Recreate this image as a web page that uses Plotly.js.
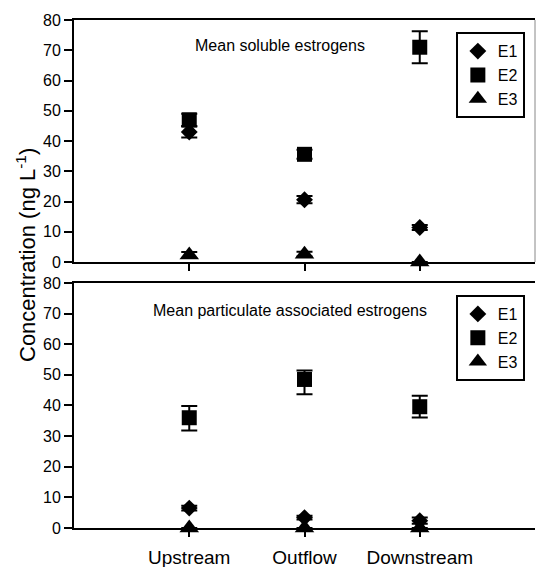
<!DOCTYPE html>
<html>
<head>
<meta charset="utf-8">
<script src="https://cdn.plot.ly/plotly-3.0.1.min.js"></script>
<style>html,body{margin:0;padding:0;background:#fff;}#chart{width:536px;height:567px;}</style>
</head>
<body>
<div id="chart"></div>
<script>
const categories = ["Upstream", "Outflow", "Downstream"];
const seriesNames = ["E1", "E2", "E3"];

// Mean soluble estrogens (ng L-1)
const solubleE1 = [43.0, 20.6, 11.4];
const solubleE1Err = [1.8, 1.2, 0.8];
const solubleE2 = [47.0, 35.6, 71.0];
const solubleE2Err = [2.0, 1.5, 5.3];
const solubleE3 = [2.3, 2.6, 0.0];
const solubleE3Err = [1.0, 0.8, 0.0];

// Mean particulate associated estrogens (ng L-1)
const partE1 = [6.5, 3.4, 2.4];
const partE1Err = [0.8, 0.6, 1.0];
const partE2 = [36.0, 48.5, 39.6];
const partE2ErrPlus = [3.8, 2.9, 3.6];
const partE2ErrMinus = [4.2, 4.8, 3.5];
const partE3 = [0.0, 0.0, 0.0];
const partE3Err = [0.0, 0.0, 0.0];

const FONT = "Liberation Sans, Arial, Helvetica, sans-serif";
const symbols = {E1: "diamond", E2: "square", E3: "triangle-up"};
const sizes = {E1: 13, E2: 15, E3: 17};

function mk(name, y, plus, minus, xa, ya, legend) {
  return {
    type: "scatter", mode: "markers", name: name,
    x: categories, y: y, xaxis: xa, yaxis: ya,
    legend: legend, legendgroup: legend + name, showlegend: true,
    cliponaxis: false,
    marker: {symbol: symbols[name], size: sizes[name], color: "#000", line: {width: 0}},
    error_y: {type: "data", array: plus, arrayminus: minus || plus, visible: true,
              color: "#000", thickness: 2, width: 8}
  };
}

const data = [
  mk("E1", solubleE1, solubleE1Err, null, "x", "y", "legend"),
  mk("E2", solubleE2, solubleE2Err, null, "x", "y", "legend"),
  mk("E3", solubleE3, solubleE3Err, null, "x", "y", "legend"),
  mk("E1", partE1, partE1Err, null, "x2", "y2", "legend2"),
  mk("E2", partE2, partE2ErrPlus, partE2ErrMinus, "x2", "y2", "legend2"),
  mk("E3", partE3, partE3Err, null, "x2", "y2", "legend2")
];

const yBase = {
  range: [0, 80], tickvals: [0,10,20,30,40,50,60,70,80],
  ticks: "outside", ticklen: 8, tickwidth: 2, tickcolor: "#000",
  showline: true, linewidth: 2, linecolor: "#000", showgrid: false, zeroline: false,
  tickfont: {family: FONT, size: 16, color: "#000"}, fixedrange: true
};
const xBase = {
  type: "category", range: [-1, 3], ticks: "outside", ticklen: 7, tickwidth: 2, tickcolor: "#000",
  showline: true, linewidth: 2, linecolor: "#000", mirror: true, showgrid: false, zeroline: false,
  tickfont: {family: FONT, size: 19, color: "#000"}, fixedrange: true
};

const legendBase = {
  xanchor: "right", yanchor: "top", x: 0.978,
  bgcolor: "#fff", bordercolor: "#000", borderwidth: 2,
  font: {family: FONT, size: 16, color: "#000"},
  traceorder: "grouped", tracegroupgap: 0, itemwidth: 30
};

const layout = {
  width: 536, height: 567,
  margin: {l: 74, r: 1, t: 20, b: 39},
  paper_bgcolor: "#fff", plot_bgcolor: "#fff",
  showlegend: true,
  xaxis: Object.assign({}, xBase, {anchor: "y", showticklabels: false}),
  yaxis: Object.assign({}, yBase, {domain: [0.5236, 1], anchor: "x"}),
  xaxis2: Object.assign({}, xBase, {anchor: "y2", showticklabels: true, ticklabelstandoff: 4}),
  yaxis2: Object.assign({}, yBase, {domain: [0, 0.4823], anchor: "x2"}),
  legend: Object.assign({}, legendBase, {y: 0.976}),
  legend2: Object.assign({}, legendBase, {y: 0.4587}),
  shapes: [
    {type: "line", xref: "paper", yref: "paper", x0: 1, x1: 1, y0: 0.5236, y1: 1,
     line: {color: "#888", width: 1}}
  ],
  annotations: [
    {text: "Mean soluble estrogens", xref: "paper", yref: "paper",
     x: (280 - 74) / 461, y: (528 - 45) / 508, showarrow: false,
     xanchor: "center", yanchor: "middle", font: {family: FONT, size: 16, color: "#000"}},
    {text: "Mean particulate associated estrogens", xref: "paper", yref: "paper",
     x: (290 - 74) / 461, y: (528 - 310) / 508, showarrow: false,
     xanchor: "center", yanchor: "middle", font: {family: FONT, size: 16, color: "#000"}},
    {text: "Concentration (ng L<sup>-1</sup>)", xref: "paper", yref: "paper",
     x: (26 - 74) / 461, y: (528 - 255) / 508, showarrow: false, textangle: -90,
     xanchor: "center", yanchor: "middle", font: {family: FONT, size: 22, color: "#000"}}
  ]
};

Plotly.newPlot("chart", data, layout, {displayModeBar: false, staticPlot: true});
</script>
</body>
</html>
